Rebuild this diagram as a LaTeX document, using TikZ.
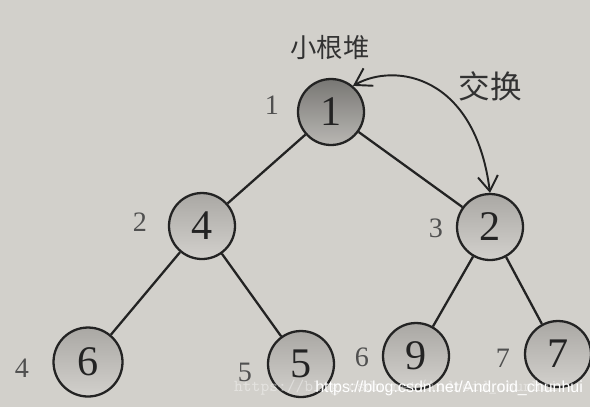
\documentclass[tikz,border=0pt]{standalone}
\usepackage{fontspec}
\setmainfont{Liberation Serif}
\newfontfamily\cjk{Noto Sans CJK SC}
\newfontfamily\wmfont{Liberation Sans}
\usetikzlibrary{arrows.meta}
\definecolor{paper}{RGB}{210,208,203}
\definecolor{edgec}{RGB}{35,35,35}
\begin{document}
\begin{tikzpicture}[x=0.02cm,y=-0.02cm,
  heapnode/.style={circle,draw=edgec,line width=1.3pt,minimum size=1.32cm,inner sep=0pt,
    top color={rgb,255:red,170;green,168;blue,164},bottom color={rgb,255:red,210;green,208;blue,204},
    font=\fontsize{24}{24}\selectfont,text=edgec},
  rootnode/.style={heapnode,top color={rgb,255:red,120;green,119;blue,116},bottom color={rgb,255:red,185;green,183;blue,179}},
  idx/.style={font=\fontsize{16}{16}\selectfont,text={rgb,255:red,80;green,80;blue,80}},
  tedge/.style={draw=edgec,line width=1.3pt},
  swap/.style={draw=edgec,line width=1.1pt,{Straight Barb[length=3.2mm,width=4mm]}-{Straight Barb[length=3mm,width=4mm]}}]
\fill[paper] (0,0) rectangle (590,407);
\useasboundingbox (0,0) rectangle (590,407);
\node[rootnode] (n1) at (331,112) {1};
\node[heapnode] (n4) at (202,226) {4};
\node[heapnode] (n2) at (490,227) {2};
\node[heapnode,minimum size=1.38cm] (n6) at (88,362) {6};
\node[heapnode] (n5) at (301,364) {5};
\node[heapnode] (n9) at (416,356) {9};
\node[heapnode] (n7) at (558,354) {7};
\draw[tedge] (n1) -- (n4);
\draw[tedge] (n1) -- (n2);
\draw[tedge] (n4) -- (n6);
\draw[tedge] (n4) -- (n5);
\draw[tedge] (n2) -- (n9);
\draw[tedge] (n2) -- (n7);
\node[idx] (i1) at (272,105) {1};
\node[idx] (i2) at (140,222) {2};
\node[idx] (i3) at (436,228) {3};
\node[idx] (i4) at (22,368) {4};
\node[idx] (i5) at (245,372) {5};
\node[idx] (i6) at (362,357) {6};
\node[idx] (i7) at (503,358) {7};
\node[font=\cjk\fontsize{15}{15}\selectfont,text={rgb,255:red,50;green,50;blue,50}] (lbl) at (330,47) {小根堆};
\node[font=\cjk\fontsize{18}{18}\selectfont,text={rgb,255:red,50;green,50;blue,50}] (swaplbl) at (490,86) {交换};
\coordinate (c1) at (395,62);
\coordinate (c2) at (475,75);
\draw[swap] (n1.50) .. controls (c1) and (c2) .. (n2.north);
\node[font=\ttfamily\fontsize{9.5}{9.5}\selectfont,text=white,opacity=0.4,anchor=west] (wm0) at (228,388) {https://blog.csdn.net/Android\_chunhui};
\node[font=\wmfont\fontsize{9.1}{9.1}\selectfont,text=white,anchor=west,inner sep=0pt] (wm) at (315,388) {https://blog.csdn.net/Android\_chunhui};
\end{tikzpicture}
\end{document}
